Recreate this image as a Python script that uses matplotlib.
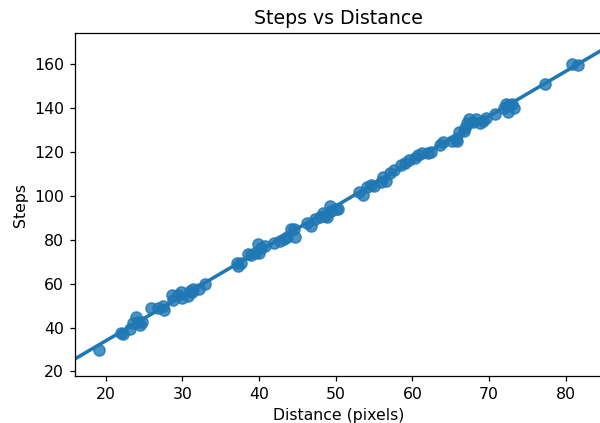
import matplotlib
matplotlib.use("Agg")
import matplotlib.pyplot as plt
import seaborn as sns
import pandas as pd

distance = [19.1, 22.0, 22.2, 23.1, 23.6, 23.9, 24.2, 24.7, 24.4,
            25.9, 26.8, 27.4, 27.6,
            28.6, 28.7, 29.4, 29.8, 29.9, 30.7, 31.0, 31.2, 31.4, 32.2, 33.0,
            37.1, 37.3, 37.7, 38.5, 38.9, 39.5, 39.8, 40.0, 40.3, 40.8,
            42.0, 42.7, 43.3, 43.7, 44.1, 44.5, 44.7,
            46.3, 46.8, 47.3, 48.0, 48.4, 48.6, 48.9, 49.2, 49.4, 50.1, 50.3,
            53.1, 53.6, 54.1, 54.6, 55.0, 55.9, 56.2, 56.5, 57.1, 57.6,
            58.5, 59.1, 59.6, 60.4, 60.8, 61.2, 62.0, 62.4,
            63.6, 64.0, 65.2, 65.7, 65.8, 66.1, 66.7, 66.9, 67.1, 67.4, 67.9,
            68.3, 68.8, 69.2, 69.6,
            70.8, 72.0, 72.2, 72.5, 72.6, 73.0, 73.3,
            77.3, 80.8, 81.6]
steps = [30.0, 37.3, 37.0, 39.5, 42.0, 45.0, 42.3, 42.3, 41.0,
         49.0, 49.0, 50.0, 48.0,
         55.0, 52.7, 55.0, 56.4, 53.6, 54.5, 56.8, 56.0, 57.5, 57.7, 60.0,
         69.5, 68.2, 69.5, 73.6, 73.2, 74.0, 78.0, 74.0, 76.0, 77.3,
         78.6, 79.5, 80.5, 81.4, 85.0, 85.0, 81.4,
         87.7, 86.4, 89.5, 90.5, 92.3, 91.0, 90.5, 95.5, 93.0, 94.0, 94.0,
         101.8, 100.5, 104.0, 105.0, 104.5, 106.4, 108.6, 106.8, 110.5, 111.8,
         114.0, 115.0, 116.4, 117.3, 118.6, 119.5, 119.5, 120.0,
         123.2, 124.5, 125.0, 126.0, 125.0, 129.0, 129.5, 131.0, 133.0, 135.0, 133.6,
         135.0, 133.2, 134.0, 135.5,
         137.3, 140.0, 141.8, 138.2, 141.4, 141.8, 140.0,
         150.9, 160.0, 159.5]

df = pd.DataFrame({"Distance (pixels)": distance, "Steps": steps})

DPI = 113
fig = plt.figure(figsize=(600 / DPI, 423 / DPI), dpi=DPI)
ax = fig.add_axes([0.125, 0.111, 0.878, 0.811])
sns.regplot(data=df, x="Distance (pixels)", y="Steps", ax=ax, truncate=False,
            scatter_kws={"s": 50})
ax.set_title("Steps vs Distance")
ax.set_xticks([20, 30, 40, 50, 60, 70, 80])
ax.set_yticks([20, 40, 60, 80, 100, 120, 140, 160])
fig.savefig("out.png", dpi=DPI)
